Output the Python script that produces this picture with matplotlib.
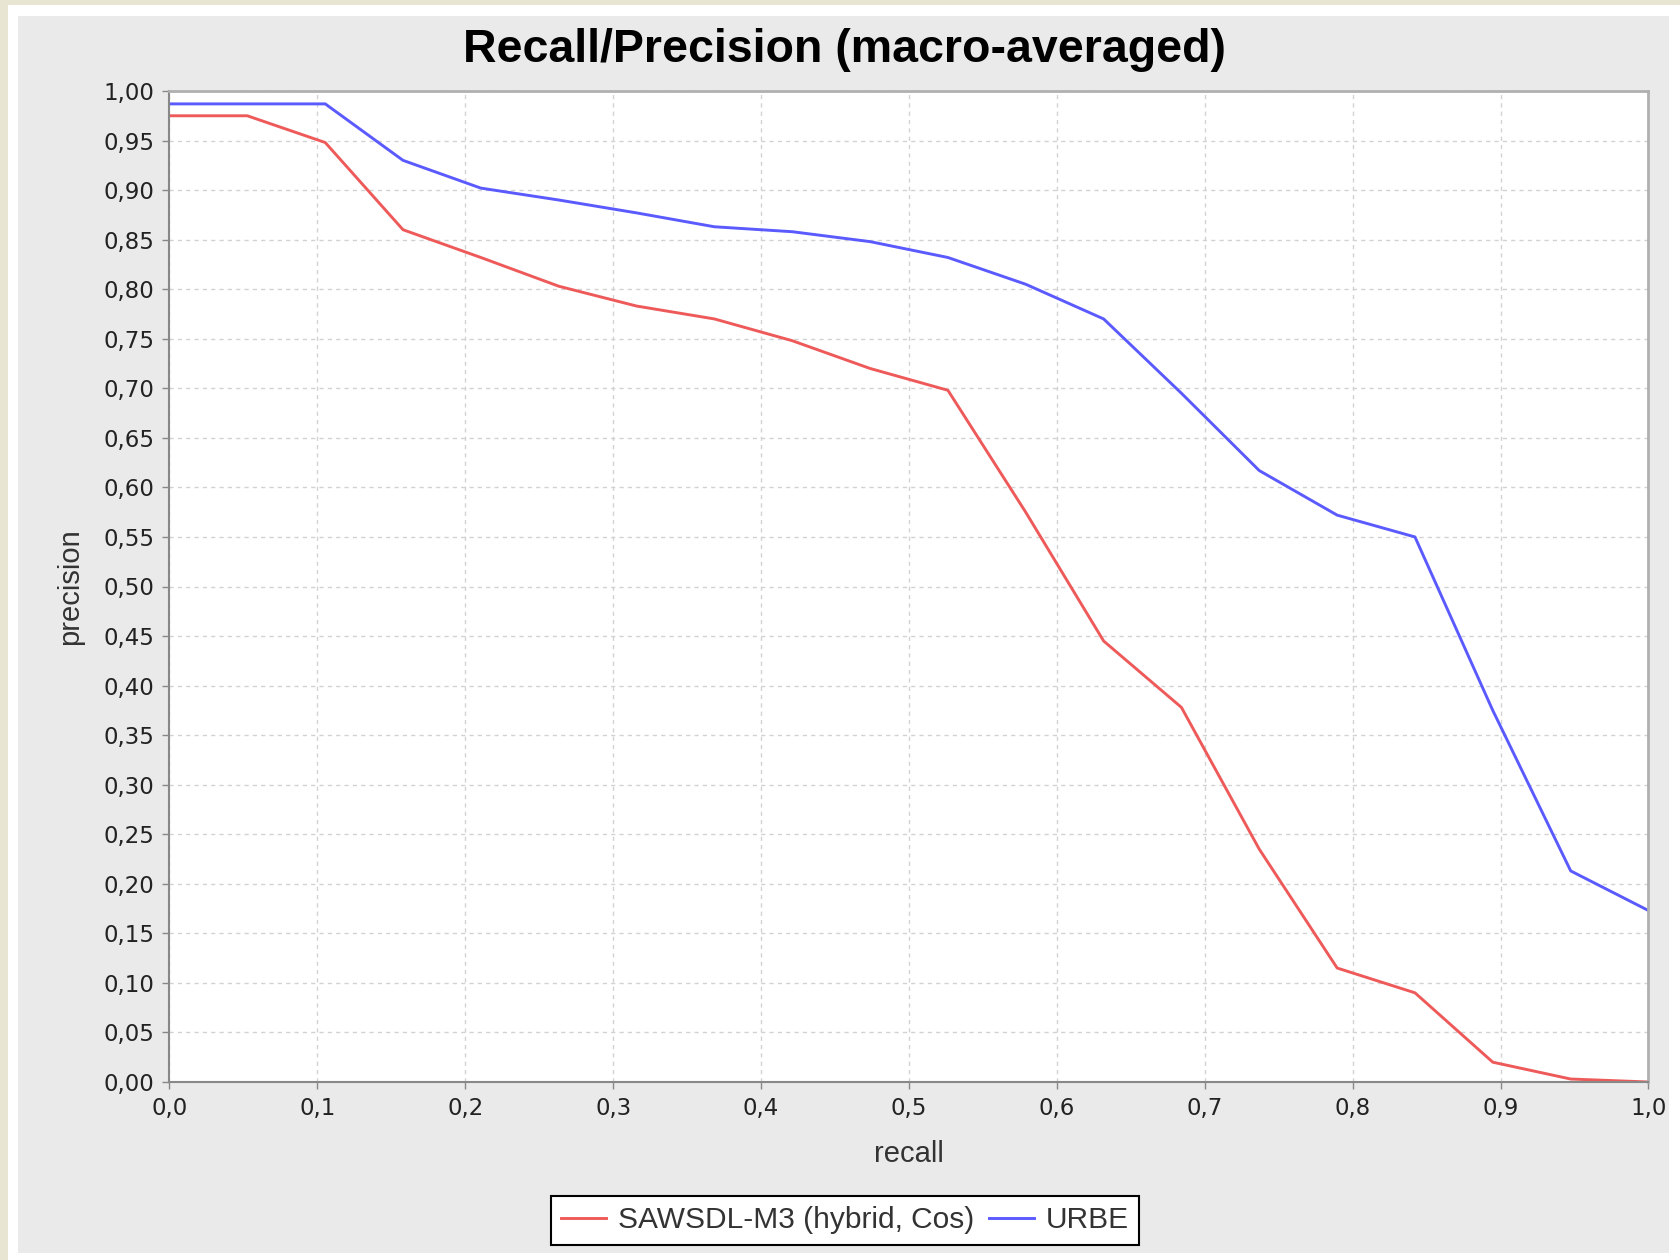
import numpy as np
import matplotlib
matplotlib.use("Agg")
import matplotlib.pyplot as plt
from matplotlib.patches import Rectangle
from matplotlib.ticker import MultipleLocator, FuncFormatter

# ---------- data ---------- #
recall = [0.0, 0.0526, 0.1053, 0.1579, 0.2105, 0.2632, 0.3158, 0.3684, 0.4211, 0.4737,
          0.5263, 0.5789, 0.6316, 0.6842, 0.7368, 0.7895, 0.8421, 0.8947, 0.9474, 1.0]
sawsdl = [0.975, 0.975, 0.948, 0.860, 0.832, 0.803, 0.783, 0.770, 0.748, 0.720,
          0.698, 0.575, 0.445, 0.378, 0.235, 0.115, 0.090, 0.020, 0.003, 0.000]
urbe = [0.987, 0.987, 0.987, 0.930, 0.902, 0.890, 0.877, 0.863, 0.858, 0.848,
        0.832, 0.805, 0.770, 0.695, 0.617, 0.572, 0.550, 0.375, 0.213, 0.173]
series_names = ["SAWSDL-M3 (hybrid, Cos)", "URBE"]

W, H = 1681, 1260
fig = plt.figure(figsize=(W / 100, H / 100), dpi=100)
fig.patch.set_facecolor("#e8e5d3")

# white frame + grey chart panel
fig.patches.append(Rectangle((8 / W, 0), 1, 1 - 5 / H, transform=fig.transFigure,
                             facecolor="white", edgecolor="none", zorder=-2))
fig.patches.append(Rectangle((18 / W, 1 - 1253 / H), (1669 - 18) / W, (1253 - 16) / H,
                             transform=fig.transFigure, facecolor="#eaeaea",
                             edgecolor="none", zorder=-1))

ax = fig.add_axes([169.5 / W, 1 - 1082 / H, (1648.5 - 169.5) / W, (1082 - 91) / H])
ax.set_facecolor("white")

ax.plot(recall, sawsdl, color="#ee5a5a", lw=2.1, label=series_names[0])
ax.plot(recall, urbe, color="#5a5aff", lw=2.1, label=series_names[1])

ax.set_xlim(0, 1)
ax.set_ylim(0, 1)
ax.xaxis.set_major_locator(MultipleLocator(0.1))
ax.yaxis.set_major_locator(MultipleLocator(0.05))
ax.xaxis.set_major_formatter(FuncFormatter(lambda v, p: f"{v:.1f}".replace(".", ",")))
ax.yaxis.set_major_formatter(FuncFormatter(lambda v, p: f"{v:.2f}".replace(".", ",")))
ax.grid(True, color="#d2d2d2", ls=(0, (3, 3)), lw=1.0)
ax.set_axisbelow(True)

ax.tick_params(direction="out", length=5, width=1, color="#888888",
               labelcolor="#222222", labelsize=16.5, pad=6)
for lbl in ax.get_xticklabels() + ax.get_yticklabels():
    lbl.set_family("DejaVu Sans")

for side in ["left", "bottom"]:
    ax.spines[side].set_color("#888888")
    ax.spines[side].set_linewidth(1.5)
for side in ["top", "right"]:
    ax.spines[side].set_color("#b0b0b0")
    ax.spines[side].set_linewidth(2)

ax.set_xlabel("recall", family="Liberation Sans", fontsize=21, color="#333333", labelpad=14)
ax.set_ylabel("precision", family="Liberation Sans", fontsize=21, color="#333333", labelpad=14)

fig.text(845 / W, 1 - 50 / H, "Recall/Precision (macro-averaged)", ha="center", va="center",
         family="Liberation Sans", fontweight="bold", fontsize=33.5)

leg = fig.legend(loc="center", bbox_to_anchor=(845 / W, 1 - 1220.5 / H), ncol=2,
                 prop={"family": "Liberation Sans", "size": 21.5}, frameon=True,
                 fancybox=False, edgecolor="black", framealpha=1,
                 handlelength=1.5, handletextpad=0.4, columnspacing=0.5,
                 borderpad=0.35, borderaxespad=0)
leg.get_frame().set_linewidth(1.5)
for t in leg.get_texts():
    t.set_color("#333333")

fig.savefig("out.png", dpi=100, facecolor=fig.get_facecolor())
